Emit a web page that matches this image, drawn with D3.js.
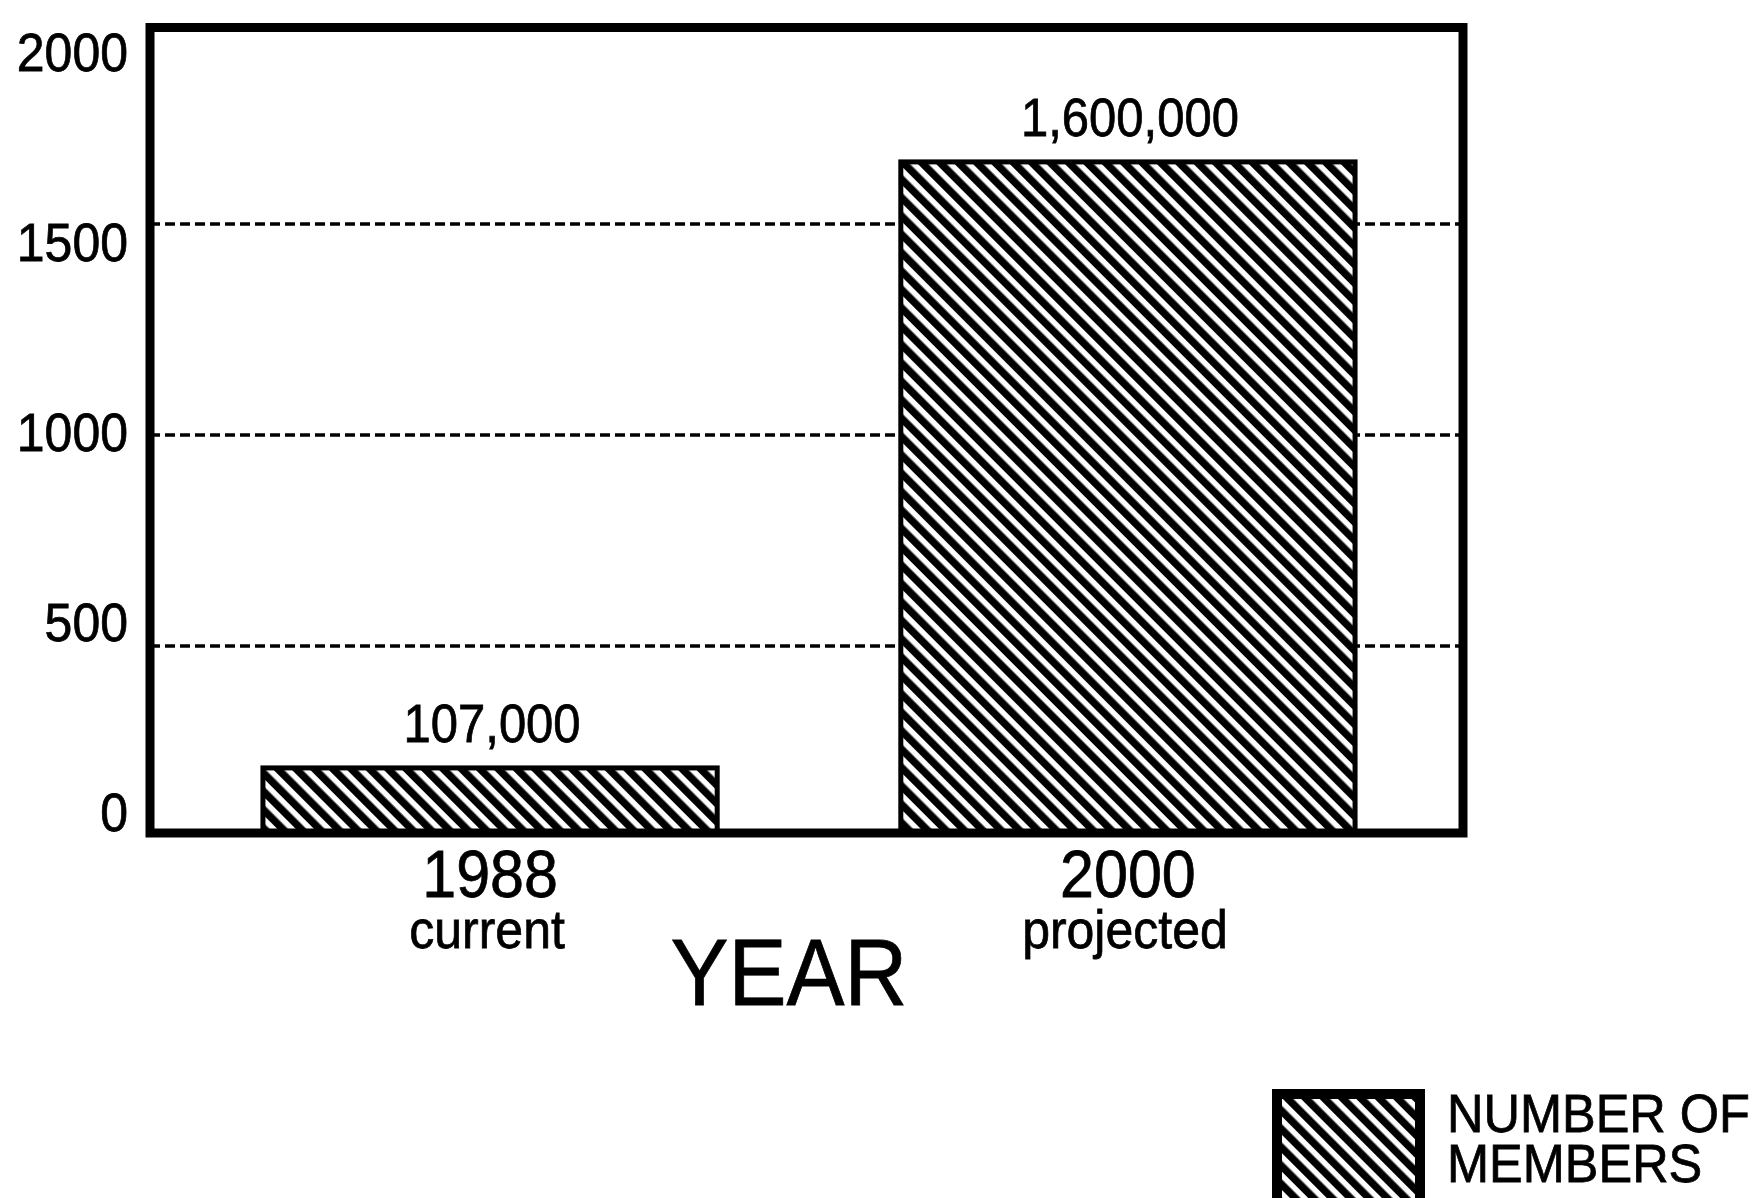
<!DOCTYPE html>
<html><head><meta charset="utf-8">
<script src="https://cdn.jsdelivr.net/npm/d3@7"></script>
<style>body{margin:0;background:#fff} svg{display:block}</style>
</head><body><svg id="c" width="1758" height="1198"></svg>
<script>
// ---- data ----
const years = ["1988", "2000"];
const yearNotes = ["current", "projected"];
const members = [174, 1658];            // bar heights as drawn (thousands)
const valueLabels = ["107,000", "1,600,000"];
const yTicks = [0, 500, 1000, 1500, 2000];
const gridTicks = [500, 1000, 1500];
const axisTitle = "YEAR";
const legendLines = ["NUMBER OF", "MEMBERS"];

// ---- layout ----
const W = 1758, H = 1198;
const frame = {left: 150, right: 1463, top: 27.5, bottom: 833};
const FONT = "'Liberation Sans', Arial, Helvetica, sans-serif";
const STRETCH = 1.08;
const TEXT_STROKE = 0.7;

const svg = d3.select("#c");
svg.append("rect").attr("width", W).attr("height", H).attr("fill", "#fff");

// hatch pattern
const defs = svg.append("defs");
const pat = defs.append("pattern")
  .attr("id", "hatch").attr("patternUnits", "userSpaceOnUse")
  .attr("width", 13).attr("height", 13)
  .attr("patternTransform", "rotate(45)");
pat.append("rect").attr("width", 13).attr("height", 13).attr("fill", "#000");
pat.append("rect").attr("x", 0).attr("y", 0).attr("width", 13).attr("height", 5.5).attr("fill", "#fff");

// scales
const y = d3.scaleLinear().domain(yTicks).range([frame.bottom, 646, 435, 224, frame.top]);
const yLabel = d3.scaleLinear().domain([0, 2000]).range([830, 70]);
const x = d3.scaleBand().domain(years).range([152, 1466]).paddingInner(0.28).paddingOuter(0.17);

function txt(g, px, py, s, size, anchor) {
  return g.append("text")
    .attr("transform", `translate(${px},${py}) scale(1,${STRETCH})`)
    .attr("text-anchor", anchor || "middle")
    .attr("font-family", FONT).attr("font-size", size).attr("fill", "#000")
    .attr("stroke", "#000").attr("stroke-width", TEXT_STROKE)
    .text(s);
}

// gridlines
svg.append("g").selectAll("line").data(gridTicks).join("line")
  .attr("x1", frame.left).attr("x2", frame.right)
  .attr("y1", d => y(d)).attr("y2", d => y(d))
  .attr("stroke", "#000").attr("stroke-width", 3.5).attr("stroke-dasharray", "10,5");

// bars
const bw = 5;
svg.append("g").selectAll("rect").data(members).join("rect")
  .attr("x", (d, i) => x(years[i]) + bw / 2)
  .attr("width", x.bandwidth() - bw)
  .attr("y", d => y(d))
  .attr("height", d => frame.bottom - y(d))
  .attr("fill", "url(#hatch)").attr("stroke", "#000").attr("stroke-width", bw);

// frame
svg.append("rect")
  .attr("x", frame.left).attr("y", frame.top)
  .attr("width", frame.right - frame.left).attr("height", frame.bottom - frame.top)
  .attr("fill", "none").attr("stroke", "#000").attr("stroke-width", 9);

// value labels
const vl = svg.append("g");
members.forEach((d, i) => {
  txt(vl, x(years[i]) + x.bandwidth() / 2 + 2, y(d) - 26, valueLabels[i], 49);
});

// y axis labels
const ya = svg.append("g").attr("transform", "translate(128,0)")
  .call(d3.axisLeft(yLabel).tickValues(yTicks).tickSize(0).tickPadding(0).tickFormat(d3.format("d")));
ya.select(".domain").remove();
ya.selectAll("text")
  .attr("dy", 0).attr("y", 0)
  .attr("font-family", FONT).attr("font-size", 50).attr("fill", "#000")
  .attr("stroke", "#000").attr("stroke-width", TEXT_STROKE)
  .attr("transform", `scale(1,${STRETCH})`);

// x labels
const xl = svg.append("g");
years.forEach((yr, i) => {
  const cx = x(yr) + x.bandwidth() / 2;
  txt(xl, cx, 897, yr, 61);
  txt(xl, cx - 3, 948, yearNotes[i], 50);
});
txt(xl, 789, 1005, axisTitle, 87);

// legend
const lg = svg.append("g");
lg.append("rect").attr("x", 1277).attr("y", 1094).attr("width", 143).attr("height", 130)
  .attr("fill", "url(#hatch)").attr("stroke", "#000").attr("stroke-width", 10);
legendLines.forEach((s, i) => txt(lg, 1447, 1132 + i * 50, s, 50.5, "start"));
</script>
</body></html>
